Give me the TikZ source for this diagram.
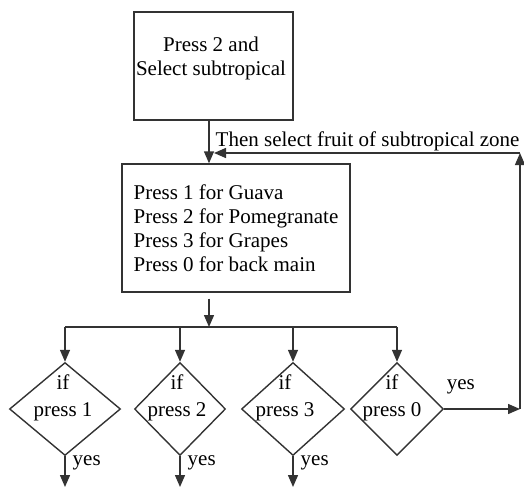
\documentclass[tikz,border=0pt]{standalone}
\usepackage{fontspec}
\setmainfont{Liberation Serif}
\usetikzlibrary{arrows.meta,shapes.geometric}

\begin{document}
\begin{tikzpicture}[x=1pt,y=-1pt,font=\fontsize{21}{24}\selectfont,
  ln/.style={draw=black!80,line width=1.4pt},
  box/.style={ln,rectangle,inner sep=0pt},
  decision/.style={ln,diamond,inner sep=0pt,minimum height=93},
  arr/.style={ln,-{Triangle[length=12pt,width=10pt]}},
  yes/.style={right,xshift=5pt,inner sep=2pt}]
\useasboundingbox (0,0) rectangle (524,487);
% boxes
\node[box,minimum width=159,minimum height=108] (top) at (213.5,66) {};
\node[align=center] (toptext) at (211,58) {Press 2 and\\Select subtropical};
\node[box,minimum width=228,minimum height=128,align=left] (menu) at (236,228)
  {Press 1 for Guava\\Press 2 for Pomegranate\\Press 3 for Grapes\\Press 0 for back main};
% decisions
\node[decision,minimum width=111] (d1) at (65,409) {};
\node[decision,minimum width=91] (d2) at (180,409) {};
\node[decision,minimum width=103] (d3) at (293,409) {};
\node[decision,minimum width=93] (d4) at (397,409) {};
\foreach \i/\k/\x in {1/1/63,2/2/177,3/3/285,4/0/392}
  \node[align=center] (q\i) at (\x,398) {if\\[3pt]press \k};
% points
\coordinate (j0) at (209,153);
\coordinate (j1) at (214,153);
\coordinate (c1) at (520,409);
\coordinate (c2) at (520,153);
\coordinate (bar) at (209,327);
\coordinate (out) at (0,487);
% connectors
\draw[arr] (top.south -| j0) -- (menu.north -| j0);
\draw[arr] ([yshift=-6pt]menu.south -| bar) -- (bar);
\draw[ln] (d1.north |- bar) -- (d4.north |- bar);
\foreach \i in {1,...,4}
  \draw[arr] (d\i.north |- bar) -- (d\i.north);
\foreach \i in {1,2,3}
  \draw[arr] (d\i.south) -- node[yes,pos=0.2] (y\i) {yes} (d\i.south |- out);
\draw[arr] (d4.east) -- node[pos=0.22,above,yshift=11pt] (y4) {yes} (c1);
\draw[arr] (c1) -- (c2);
\draw[arr] (c2) -- node[pos=1,above right,inner sep=1pt] (back) {Then select fruit of subtropical zone} (j1);
\end{tikzpicture}
\end{document}
